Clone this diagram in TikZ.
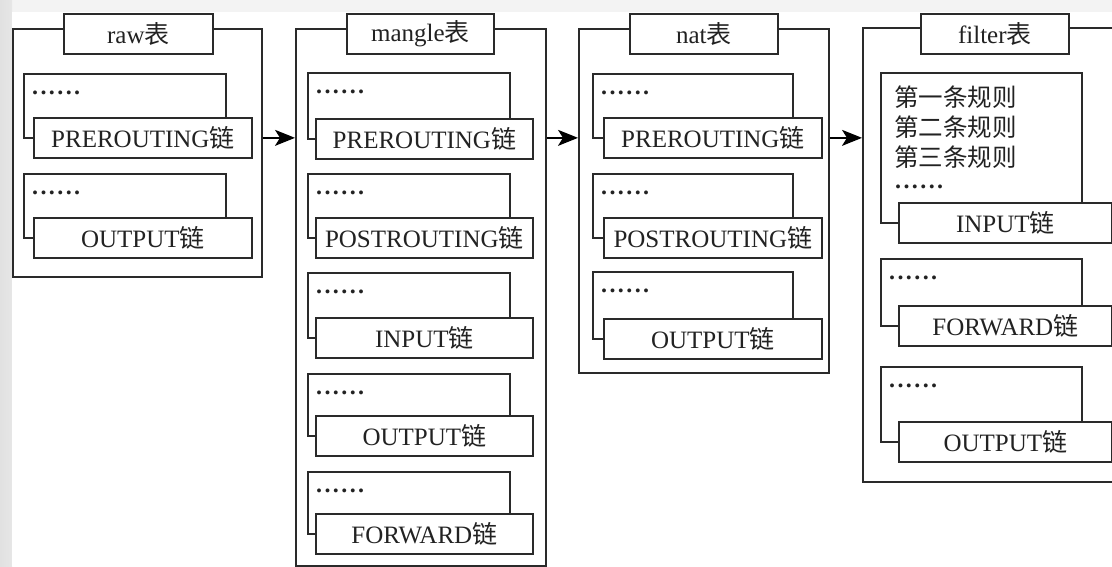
\documentclass[tikz,border=0pt]{standalone}
\usepackage{fontspec}
\setmainfont{Liberation Serif}
\newfontfamily\cjk{Noto Sans CJK SC}
\usetikzlibrary{arrows.meta}

\definecolor{linegray}{HTML}{2A2A2A}
\definecolor{inkgray}{HTML}{222222}
\definecolor{edgegray}{HTML}{E6E6E6}
\definecolor{topgray}{HTML}{F3F3F3}

% a row of six evenly spaced dots
\newcommand\sixdots{\textbf{.\kern2.4pt.\kern2.4pt.\kern2.4pt.\kern2.4pt.\kern2.4pt.}}

\tikzset{
  frame/.style={draw=linegray, line width=1.7pt, fill=white},
  tablebox/.style={frame, rectangle, anchor=north west, inner sep=0pt},
  titlebox/.style={frame, rectangle, anchor=north west, inner sep=0pt,
    minimum height=40pt, text=inkgray, font=\fontsize{25}{29}\selectfont},
  rulebox/.style={frame, rectangle, anchor=north west, inner sep=0pt},
  chainbox/.style={frame, rectangle, anchor=north west, inner sep=0pt,
    minimum height=40pt, text=inkgray, font=\fontsize{25}{29}\selectfont},
  dotsline/.style={anchor=west, inner sep=0pt, text=inkgray,
    font=\fontsize{24}{28}\selectfont},
  ruleline/.style={anchor=west, inner sep=0pt, text=inkgray,
    font=\cjk\fontsize{24.5}{28}\selectfont},
  flow/.style={draw=black, line width=1.7pt,
    -{Stealth[length=20pt,width=16pt,inset=5pt]}},
}

% back box of rules, partly covered by the chain box in front of it
% #1 name, #2 left, #3 right, #4 top, #5 chain left, #6 chain right, #7 chain top, #8 label
\newcommand\rulegroup[8]{%
  \node[rulebox, minimum width={(#3)-(#2)}, minimum height={(#7)+20-(#4)}]
    (#1-r) at (#2,#4) {};
  \node[chainbox, minimum width={(#6)-(#5)}] (#1) at (#5,#7) {#8};
}

\begin{document}
\begin{tikzpicture}[x=1pt, y=-1pt]
\useasboundingbox (0,0) rectangle (1112,566);
\clip (0,0) rectangle (1112,566);

% paper and its grey margins
\fill[topgray] (0,0) rectangle (1112,12);
\shade[left color=edgegray!120, right color=edgegray] (0,0) rectangle (12,566);
\fill[white] (12,12) rectangle (1112,566);

% ---------- raw table ----------
\node[tablebox, minimum width=249pt, minimum height=248pt] (raw) at (12,28) {};
\node[titlebox, minimum width=149pt] (raw-t) at (63,13) {raw\cjk{表}};
\rulegroup{rawpre}{23}{225}{73}{33}{251}{117}{PREROUTING\cjk{链}}
\rulegroup{rawout}{23}{225}{173}{33}{251}{217}{OUTPUT\cjk{链}}

% ---------- mangle table ----------
\node[tablebox, minimum width=250pt, minimum height=537pt] (mangle) at (295,28) {};
\node[titlebox, minimum width=147pt] (mangle-t) at (346,13) {mangle\cjk{表}};
\rulegroup{manpre}{307}{509}{72}{315}{532}{118}{PREROUTING\cjk{链}}
\rulegroup{manpost}{307}{509}{173}{315}{532}{217}{POSTROUTING\cjk{链}}
\rulegroup{manin}{307}{509}{272}{315}{532}{317}{INPUT\cjk{链}}
\rulegroup{manout}{307}{509}{373}{315}{532}{415}{OUTPUT\cjk{链}}
\rulegroup{manfwd}{307}{509}{471}{315}{532}{513}{FORWARD\cjk{链}}

% ---------- nat table ----------
\node[tablebox, minimum width=250pt, minimum height=344pt] (nat) at (578,28) {};
\node[titlebox, minimum width=148pt] (nat-t) at (629,13) {nat\cjk{表}};
\rulegroup{natpre}{592}{792}{73}{603}{821}{117}{PREROUTING\cjk{链}}
\rulegroup{natpost}{592}{792}{173}{603}{821}{217}{POSTROUTING\cjk{链}}
\rulegroup{natout}{592}{792}{271}{603}{821}{318}{OUTPUT\cjk{链}}

% ---------- filter table ----------
\node[tablebox, minimum width=270pt, minimum height=454pt] (filter) at (862,27) {};
\node[titlebox, minimum width=148pt] (filter-t) at (920,13) {filter\cjk{表}};
\rulegroup{filin}{880}{1081}{72}{898}{1111}{202}{INPUT\cjk{链}}
\rulegroup{filfwd}{880}{1081}{258}{898}{1111}{305}{FORWARD\cjk{链}}
\rulegroup{filout}{880}{1081}{366}{898}{1111}{421}{OUTPUT\cjk{链}}

% rule placeholders
\foreach \g in {rawpre,rawout,manpre,manpost,manin,manout,manfwd,natpre,natpost,natout,filfwd,filout}
  \node[dotsline] at ([xshift=9pt,yshift=-20pt]\g-r.north west) {\sixdots};
\node[ruleline] (r1) at ([xshift=14pt,yshift=-25pt]filin-r.north west) {第一条规则};
\node[ruleline] (r2) at ([yshift=-30pt]r1.west) {第二条规则};
\node[ruleline] (r3) at ([yshift=-30pt]r2.west) {第三条规则};
\node[dotsline] at ([xshift=1pt,yshift=-30pt]r3.west) {\sixdots};

% packet flow between tables
\draw[flow] (raw.east |- rawpre) -- (mangle.west |- rawpre);
\draw[flow] (mangle.east |- rawpre) -- (nat.west |- rawpre);
\draw[flow] (nat.east |- rawpre) -- (filter.west |- rawpre);
\end{tikzpicture}
\end{document}
